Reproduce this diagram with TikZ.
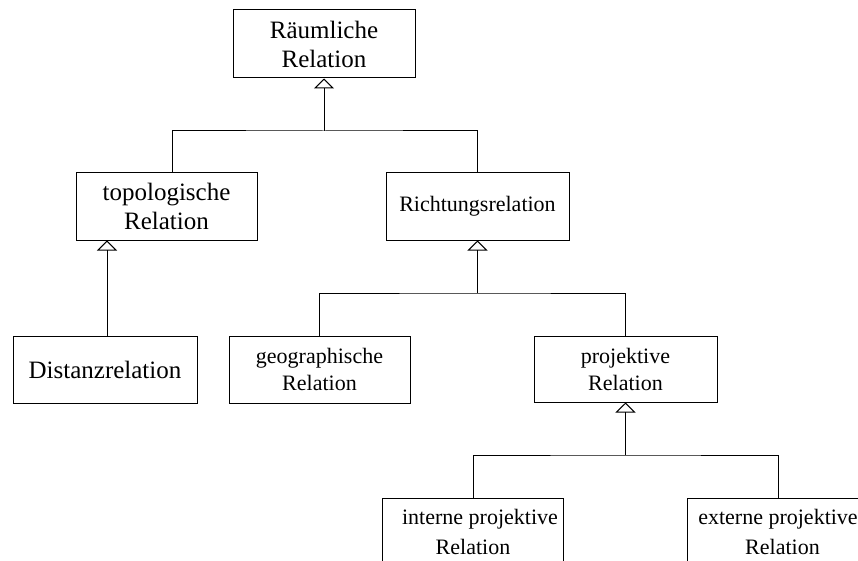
\documentclass[tikz,border=0pt]{standalone}
\usepackage{fontspec}
\setmainfont{Liberation Serif}
\usetikzlibrary{arrows.meta}
\begin{document}
\begin{tikzpicture}[x=1pt,y=-1pt,
  box/.style={draw, line width=1pt, inner sep=0pt, align=center, fill=white},
  bigbox/.style={box, font=\fontsize{25}{29}\selectfont},
  smallbox/.style={box, font=\fontsize{22}{27}\selectfont},
  lowbox/.style={box, font=\fontsize{22}{30}\selectfont},
  link/.style={line width=1pt},
  inherit/.style={line width=1pt, -{Triangle[open, length=10pt, width=20pt]}}]
\useasboundingbox (0,0) rectangle (858,561);
\clip (0,0) rectangle (858,561);

% class boxes
\node[bigbox, minimum width=182pt, minimum height=68pt] (rr) at (324,44) {Räumliche\\Relation};
\node[bigbox, minimum width=181pt, minimum height=67pt] (tl) at (166.5,206.5) {topologische\\Relation};
\node[smallbox, minimum width=183pt, minimum height=67pt] (ri) at (477.5,206.5) {Richtungsrelation};
\node[bigbox, minimum width=184pt, minimum height=67pt] (dz) at (105,369.5) {Distanzrelation};
\node[smallbox, minimum width=181pt, minimum height=67pt] (gr) at (319.5,369.5) {geographische\\Relation};
\node[smallbox, minimum width=183pt, minimum height=66pt] (pr) at (625.5,369) {projektive\\Relation};
\node[lowbox, minimum width=181pt, minimum height=68pt] (ip) at (473,532) {\hspace*{14pt}interne projektive\\Relation};
\node[lowbox, minimum width=181pt, minimum height=68pt] (ep) at (778,532) {externe projektive\\\hspace*{9pt}Relation};

% junction levels
\coordinate (bar1) at (0,131);
\coordinate (bar2) at (0,293);
\coordinate (bar3) at (0,455);
\coordinate (tlstem) at ([xshift=5.5pt]tl.north);
\coordinate (dzstem) at ([xshift=2pt]dz.north);

% generalisation: Räumliche Relation
\draw[inherit] (rr.south |- bar1) -- (rr.south);
\draw[link] (tlstem) |- (rr.south |- bar1) -| (ri.north);

% generalisation: topologische Relation
\draw[inherit] (dzstem) -- (dzstem |- tl.south);

% generalisation: Richtungsrelation
\draw[inherit] (ri.south |- bar2) -- (ri.south);
\draw[link] (gr.north) |- (ri.south |- bar2) -| (pr.north);

% generalisation: projektive Relation
\draw[inherit] (pr.south |- bar3) -- (pr.south);
\draw[link] (ip.north) |- (pr.south |- bar3) -| (ep.north);
\end{tikzpicture}
\end{document}
